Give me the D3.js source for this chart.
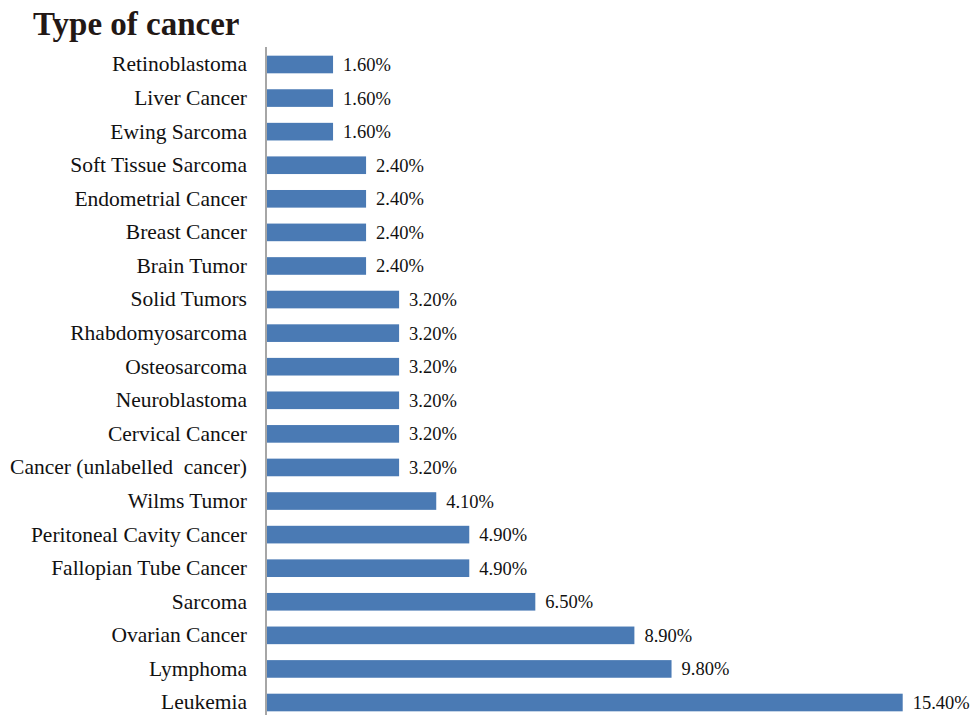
<!DOCTYPE html>
<html>
<head>
<meta charset="utf-8">
<script src="https://cdn.jsdelivr.net/npm/d3@7"></script>
<style>
  body { margin: 0; background: #fff; }
  svg text { font-family: "Liberation Serif", "Times New Roman", serif; }
</style>
</head>
<body>
<div id="chart"></div>
<script>
const categories = [
  "Retinoblastoma", "Liver Cancer", "Ewing Sarcoma", "Soft Tissue Sarcoma",
  "Endometrial Cancer", "Breast Cancer", "Brain Tumor", "Solid Tumors",
  "Rhabdomyosarcoma", "Osteosarcoma", "Neuroblastoma", "Cervical Cancer",
  "Cancer (unlabelled  cancer)", "Wilms Tumor", "Peritoneal Cavity Cancer",
  "Fallopian Tube Cancer", "Sarcoma", "Ovarian Cancer", "Lymphoma", "Leukemia"
];
const values = [
  1.6, 1.6, 1.6, 2.4, 2.4, 2.4, 2.4, 3.2, 3.2, 3.2, 3.2, 3.2, 3.2,
  4.1, 4.9, 4.9, 6.5, 8.9, 9.8, 15.4
];

const data = categories.map((c, i) => ({ name: c, value: values[i] }));

const width = 972;
const height = 715;
const margin = { top: 47, right: 69, bottom: 0, left: 266 };

const svg = d3
  .select("#chart")
  .append("svg")
  .attr("width", width)
  .attr("height", height);

svg
  .append("text")
  .attr("x", 33)
  .attr("y", 35)
  .text("Type of cancer")
  .style("font-size", "33px")
  .style("font-weight", "bold")
  .attr("fill", "#231815");

const xScale = d3
  .scaleLinear()
  .domain([0, 15.4])
  .range([margin.left + 1, 902.7]);

const yScale = d3
  .scaleBand()
  .domain(categories)
  .range([47.7, 719.3])
  .paddingInner(0.475)
  .paddingOuter(0.2375);

svg
  .selectAll(".bar")
  .data(data)
  .enter()
  .append("rect")
  .attr("class", "bar")
  .attr("x", xScale(0))
  .attr("y", (d) => yScale(d.name))
  .attr("width", (d) => xScale(d.value) - xScale(0))
  .attr("height", yScale.bandwidth())
  .attr("fill", "#4a7ab4");

// value labels
svg
  .selectAll(".val")
  .data(data)
  .enter()
  .append("text")
  .attr("class", "val")
  .attr("x", (d) => xScale(d.value) + 10)
  .attr("y", (d) => yScale(d.name) + yScale.bandwidth() / 2)
  .attr("dy", "0.35em")
  .text((d) => d.value.toFixed(2) + "%")
  .style("font-size", "18.5px")
  .attr("fill", "#111");

// category axis
const yAxis = svg
  .append("g")
  .attr("transform", "translate(" + margin.left + ",0)")
  .call(d3.axisLeft(yScale).tickSize(0).tickPadding(19));

yAxis.select(".domain").remove();
yAxis
  .selectAll("text")
  .style("font-size", "21.5px")
  .style("font-family", '"Liberation Serif", "Times New Roman", serif')
  .style("white-space", "pre")
  .attr("fill", "#111");

svg
  .append("line")
  .attr("x1", margin.left)
  .attr("x2", margin.left)
  .attr("y1", margin.top)
  .attr("y2", height)
  .attr("stroke", "#888")
  .attr("stroke-width", 1.5);
</script>
</body>
</html>
